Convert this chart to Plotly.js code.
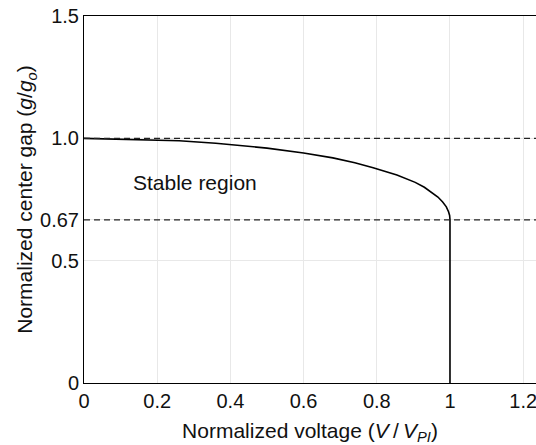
<!DOCTYPE html>
<html>
<head>
<meta charset="utf-8">
<script src="https://cdn.plot.ly/plotly-3.0.1.min.js"></script>
<style>html,body{margin:0;padding:0;background:#fff;}#chart{width:536px;height:445px;}</style>
</head>
<body>
<div id="chart"></div>
<script>
// Normalized voltage (V/V_PI) and normalized gap (g/g0)
const voltage = [0, 0.18, 0.26, 0.36, 0.5, 0.6, 0.68, 0.74, 0.79, 0.855, 0.905, 0.93, 0.95, 0.967, 0.98, 0.99, 0.996, 0.999, 1.0, 1.0];
const gap     = [1.0, 0.995, 0.99, 0.98, 0.96, 0.94, 0.92, 0.90, 0.88, 0.85, 0.82, 0.80, 0.78, 0.76, 0.74, 0.72, 0.70, 0.685, 0.667, 0];
const refLevels = [1.0, 0.667];
const yTickVals = [0, 0.5, 0.667, 1.0, 1.5];
const yTickText = ['0', '0.5', '0.67', '1.0', '1.5'];
const xTickVals = [0, 0.2, 0.4, 0.6, 0.8, 1, 1.2];
const xTickText = ['0', '0.2', '0.4', '0.6', '0.8', '1', '1.2'];

const font = {family: 'Liberation Sans, Arial, sans-serif', color: '#111'};

const shapes = refLevels.map(v => ({
  type: 'line', xref: 'paper', yref: 'y', x0: 0, x1: 1, y0: v, y1: v,
  line: {color: '#222', width: 1.2, dash: '6px,4px'}
}));

Plotly.newPlot('chart', [{
  x: voltage, y: gap, mode: 'lines', type: 'scatter',
  line: {color: '#000', width: 1.6}, hoverinfo: 'skip'
}], {
  width: 536, height: 445,
  margin: {l: 84, r: 0, t: 16, b: 62},
  paper_bgcolor: '#fff', plot_bgcolor: '#fff',
  showlegend: false,
  font: Object.assign({size: 20}, font),
  xaxis: {
    range: [0, 1.235], tickvals: xTickVals, ticktext: xTickText,
    tickfont: Object.assign({size: 20}, font), ticklabeloverflow: 'allow',
    showgrid: true, gridcolor: '#e8e8e8', gridwidth: 1,
    showline: true, linecolor: '#000', linewidth: 1, mirror: true,
    ticks: '', zeroline: false,
    title: {text: 'Normalized voltage (<i>V</i>\u2009/\u2009<i>V<sub>PI</sub></i>)', font: Object.assign({size: 21}, font), standoff: 15}
  },
  yaxis: {
    range: [0, 1.5], tickvals: yTickVals, ticktext: yTickText,
    tickfont: Object.assign({size: 20}, font),
    showgrid: true, gridcolor: '#e8e8e8', gridwidth: 1,
    showline: true, linecolor: '#000', linewidth: 1,
    ticks: '', zeroline: false,
    title: {text: 'Normalized center gap (<i>g</i>/<i>g<sub>o</sub></i>)', font: Object.assign({size: 21}, font), standoff: 1}
  },
  shapes: shapes,
  annotations: [{
    x: 0.303, y: 0.82, xref: 'x', yref: 'y', text: 'Stable region',
    showarrow: false, font: Object.assign({size: 21}, font)
  }]
}, {staticPlot: true});
</script>
</body>
</html>
